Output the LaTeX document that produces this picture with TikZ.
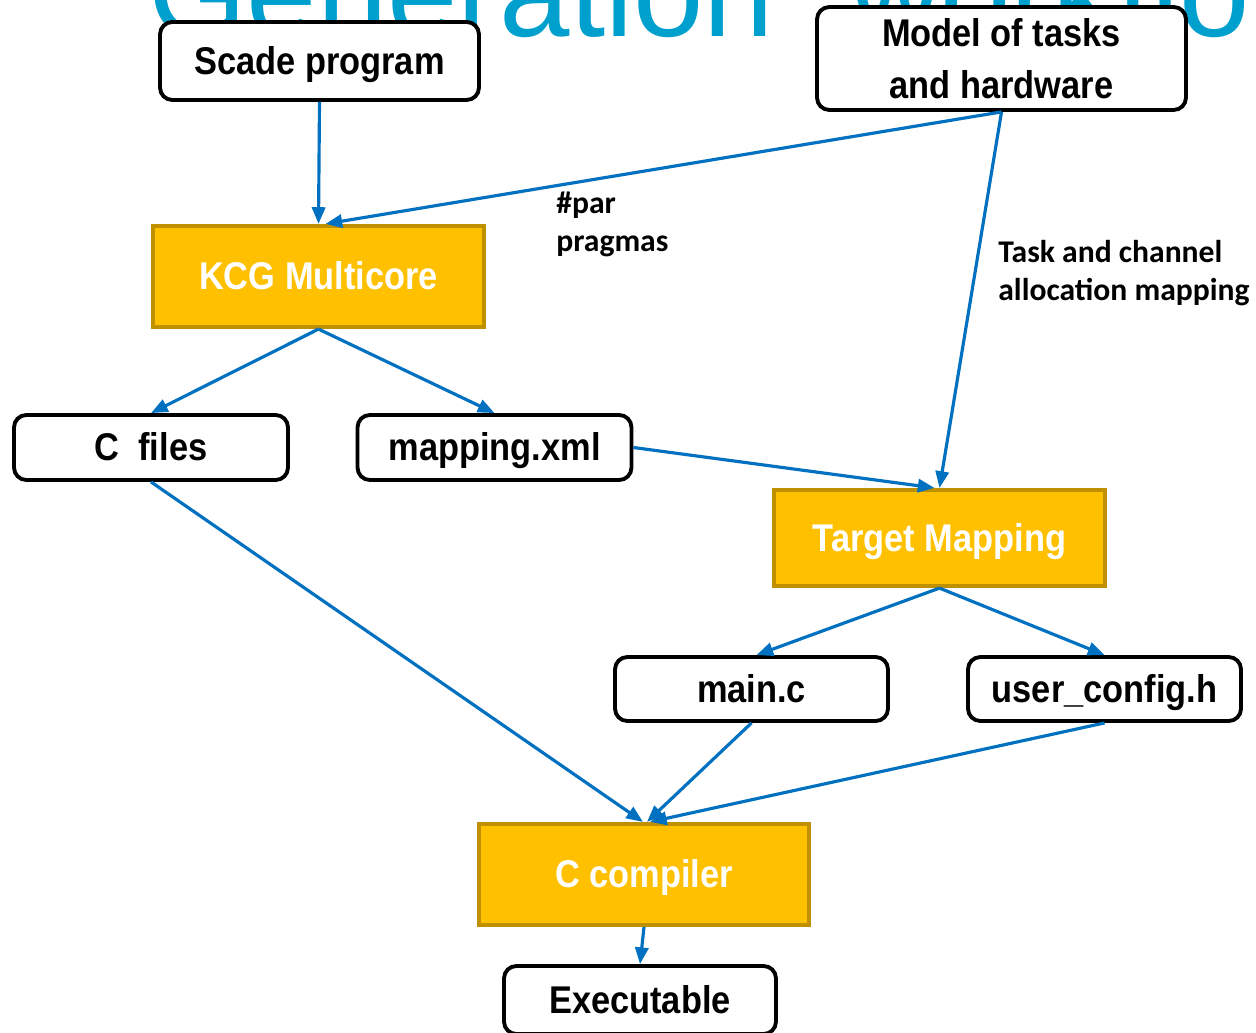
\documentclass[tikz,border=0pt]{standalone}
\usepackage{fontspec}
\setmainfont{Carlito}
\newfontfamily\boxfont[FakeStretch=0.89]{Liberation Sans}
\newfontfamily\titlefont{Liberation Sans}
\usetikzlibrary{arrows.meta}

\definecolor{flowblue}{RGB}{0,112,192}
\definecolor{titleblue}{RGB}{0,160,206}
\definecolor{kcgfill}{RGB}{255,192,0}
\definecolor{kcgedge}{RGB}{191,144,0}

\tikzset{
  file/.style={draw, fill=white, rounded corners=7pt, line width=2.2pt,
    font=\boxfont\bfseries\fontsize{22}{29.5}\selectfont, inner sep=0pt,
    text height=19.9pt, text depth=4.7pt},
  tool/.style={draw=kcgedge, fill=kcgfill, line width=2.4pt, text=white,
    font=\boxfont\bfseries\fontsize{22}{29.5}\selectfont, inner sep=0pt,
    text height=19.9pt, text depth=4.7pt},
  flow/.style={draw=flowblue, line width=1.8pt, -{Triangle[length=9.5pt,width=7.5pt]}},
  note/.style={font=\bfseries\fontsize{18}{21.5}\selectfont, align=left,
    anchor=north west, inner sep=0pt}
}

\begin{document}
\begin{tikzpicture}[x=0.02cm, y=-0.02cm]
\clip (0,0) rectangle (1256,1033);
\useasboundingbox (0,0) rectangle (1256,1033);

\node[anchor=base west, inner sep=0pt, text=titleblue,
  font=\titlefont\fontsize{72}{72}\selectfont] (heading) at (148,37) {Generation\hspace{0.8cm} workflow};

\node[file, minimum width=6.38cm, minimum height=1.56cm] (scade) at (319.5,61) {Scade program};
\node[file, minimum width=7.38cm, minimum height=2.06cm, align=center,
  text height=, text depth=] (model) at (1001.5,58.5) {Model of tasks\\and hardware};
\node[tool, minimum width=6.62cm, minimum height=2.02cm] (kcg) at (318.5,276.5) {KCG Multicore};
\node[file, minimum width=5.48cm, minimum height=1.3cm] (cfiles) at (151,447.5) {C\ \ files};
\node[file, minimum width=5.48cm, minimum height=1.3cm] (mapxml) at (494.5,447.5) {mapping.xml};
\node[tool, minimum width=6.62cm, minimum height=1.92cm] (target) at (939.5,538) {Target Mapping};
\node[file, minimum width=5.46cm, minimum height=1.28cm] (mainc) at (751.5,689) {main.c};
\node[file, minimum width=5.46cm, minimum height=1.28cm] (userh) at (1104.5,689) {user\_config.h};
\node[tool, minimum width=6.6cm, minimum height=2.02cm] (ccomp) at (644,874.5) {C compiler};
\node[file, minimum width=5.44cm, minimum height=1.36cm] (exe) at (640,1000) {Executable};

\node[note] (pragmas) at (556,192) {\#par\\pragmas};
\node[note] (alloc) at (998,240) {Task and channel\\allocation mapping};

\draw[flow] (scade.south) -- (kcg.north);
\draw[flow] (model.south) -- ([xshift=0.14cm]kcg.north);
\draw[flow] (model.south) -- (target.north);
\draw[flow] (kcg.south) -- (cfiles.north);
\draw[flow] (kcg.south) -- (mapxml.north);
\draw[flow] (mapxml.east) -- ([xshift=-0.1cm]target.north);
\draw[flow] (target.south) -- ([xshift=0.1cm]mainc.north);
\draw[flow] (target.south) -- (userh.north);
\draw[flow] (cfiles.south) -- ([xshift=-0.02cm]ccomp.north);
\draw[flow] (mainc.south) -- ([xshift=0.06cm]ccomp.north);
\draw[flow] (userh.south) -- ([xshift=0.12cm]ccomp.north);
\draw[flow] (ccomp.south) -- (exe.north);
\end{tikzpicture}
\end{document}
